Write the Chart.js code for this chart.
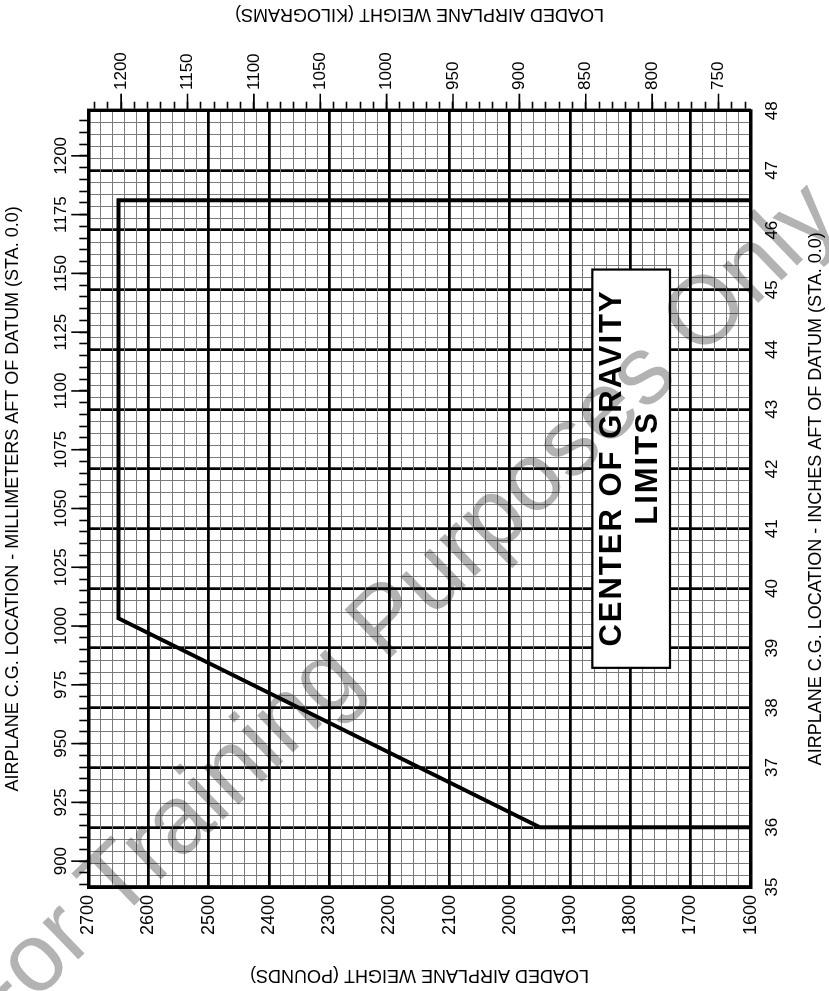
<!DOCTYPE html>
<html>
<head>
<meta charset="utf-8">
<title>Center of Gravity Limits</title>
<script src="https://cdn.jsdelivr.net/npm/chart.js@4.4.1/dist/chart.umd.min.js"></script>
<style>
  html, body { margin: 0; padding: 0; background: #fff; overflow: hidden; }
  /* chart is drawn upright (weight up, C.G. across) and turned a quarter turn */
  #wrap {
    position: absolute; left: 0; top: 0;
    width: 991px; height: 829px;
    transform-origin: 0 0;
    transform: translate(0, 991px) rotate(-90deg);
  }
</style>
</head>
<body>
<div id="wrap"><canvas id="cgChart" width="991" height="829"></canvas></div>
<script>
// Weight axis labels
const weightLbLabels = [1600, 1700, 1800, 1900, 2000, 2100, 2200, 2300, 2400, 2500, 2600, 2700];
const weightKgLabels = [750, 800, 850, 900, 950, 1000, 1050, 1100, 1150, 1200];

// C.G. axis labels
const cgInchLabels = [35, 36, 37, 38, 39, 40, 41, 42, 43, 44, 45, 46, 47, 48];
const cgMmLabels = [900, 925, 950, 975, 1000, 1025, 1050, 1075, 1100, 1125, 1150, 1175, 1200];

// C.G. envelope (inches aft of datum, pounds)
const envelopeCg = [46.5, 46.5, 39.5, 36.0, 36.0];
const envelopeWeight = [1600, 2650, 2650, 1950, 1600];

// "CENTER OF GRAVITY LIMITS" box, in chart units
const boxCg = [38.67, 45.34];
const boxWeight = [1734, 1863];
const boxLines = ['CENTER OF GRAVITY', 'LIMITS'];
const boxLineWeight = [1829, 1770];
const boxLineCg = 42.0;

const LB_TO_KG = 0.45359237;
const IN_TO_MM = 25.4;

const FONT = "'Liberation Sans', Arial, sans-serif";
const NARROW = "'Liberation Sans Narrow', 'Arial Narrow', 'Liberation Sans', sans-serif";

// tick positions for the fine grid
function stepTicks(from, to, step) {
    const n = Math.round((to - from) / step);
    const out = [];
    for (let i = 0; i <= n; i++) {
        out.push({ value: Math.round((from + i * step) * 1000) / 1000 });
    }
    return out;
}

const isIn = (list) => (c) => !!c.tick && list.includes(c.tick.value);
const gridColor = (list) => (c) => isIn(list)(c) ? '#000' : '#7a7a7a';
const gridWidth = (list) => (c) => isIn(list)(c) ? 2.7 : 1;

// Longer marks for the labelled mm / kg ticks
const majorTickMarks = {
    id: 'majorTickMarks',
    afterDraw(chart) {
        const { ctx, chartArea } = chart;
        const mm = chart.scales.x2;
        const kg = chart.scales.y2;
        ctx.save();
        ctx.strokeStyle = '#000';
        ctx.lineWidth = 1.6;
        ctx.beginPath();
        cgMmLabels.forEach(v => {
            const px = mm.getPixelForValue(v);
            ctx.moveTo(px, chartArea.top);
            ctx.lineTo(px, chartArea.top - 17);
        });
        weightKgLabels.forEach(v => {
            const py = kg.getPixelForValue(v);
            ctx.moveTo(chartArea.right, py);
            ctx.lineTo(chartArea.right + 17, py);
        });
        ctx.stroke();
        ctx.restore();
    }
};

// Kilogram title reads the same way as the pound title
const kgTitle = {
    id: 'kgTitle',
    afterDraw(chart) {
        const { ctx, chartArea } = chart;
        ctx.save();
        ctx.fillStyle = '#000';
        ctx.font = `18px ${FONT}`;
        ctx.textAlign = 'center';
        ctx.textBaseline = 'middle';
        ctx.translate(chart.width - 14, (chartArea.top + chartArea.bottom) / 2);
        ctx.rotate(-Math.PI / 2);
        ctx.fillText('LOADED AIRPLANE WEIGHT (KILOGRAMS)', 0, 0);
        ctx.restore();
    }
};

// Boxed caption
const limitsBox = {
    id: 'limitsBox',
    afterDatasetsDraw(chart) {
        const { ctx } = chart;
        const x = chart.scales.x;
        const y = chart.scales.y;
        const l = x.getPixelForValue(boxCg[0]);
        const r = x.getPixelForValue(boxCg[1]);
        const t = y.getPixelForValue(boxWeight[1]);
        const b = y.getPixelForValue(boxWeight[0]);
        ctx.save();
        ctx.fillStyle = '#fff';
        ctx.fillRect(l, t, r - l, b - t);
        ctx.strokeStyle = '#000';
        ctx.lineWidth = 2.2;
        ctx.strokeRect(l, t, r - l, b - t);
        ctx.fillStyle = '#000';
        ctx.font = `bold 31px ${FONT}`;
        ctx.letterSpacing = '2px';
        ctx.textAlign = 'center';
        ctx.textBaseline = 'middle';
        boxLines.forEach((txt, i) => {
            ctx.fillText(txt, x.getPixelForValue(boxLineCg) + 1, y.getPixelForValue(boxLineWeight[i]));
        });
        ctx.restore();
    }
};

// Grey watermark across the sheet
const watermark = {
    id: 'watermark',
    afterDraw(chart) {
        const { ctx } = chart;
        ctx.save();
        ctx.globalCompositeOperation = 'multiply';
        ctx.fillStyle = '#b3b3b3';
        ctx.font = `97px ${FONT}`;
        ctx.textAlign = 'center';
        ctx.textBaseline = 'alphabetic';
        ctx.translate(377, 400);
        ctx.rotate(46 * Math.PI / 180);
        ctx.fillText('For Training Purposes Only', 0, 25);
        ctx.restore();
    }
};

const envelopeData = envelopeCg.map((cg, i) => ({ x: cg, y: envelopeWeight[i] }));

new Chart(document.getElementById('cgChart'), {
    type: 'scatter',
    data: {
        datasets: [{
            data: envelopeData,
            showLine: true,
            borderColor: '#000',
            borderWidth: 4,
            borderJoinStyle: 'miter',
            pointRadius: 0,
            xAxisID: 'x',
            yAxisID: 'y'
        }]
    },
    options: {
        responsive: false,
        devicePixelRatio: 1,
        animation: false,
        events: [],
        layout: { padding: 0 },
        plugins: {
            legend: { display: false },
            tooltip: { enabled: false }
        },
        scales: {
            x: {
                type: 'linear',
                position: 'bottom',
                min: 35,
                max: 48,
                afterBuildTicks: s => { s.ticks = stepTicks(35, 48, 0.2); },
                afterFit: s => { s.height = 78.3; },
                grid: { drawTicks: false, color: gridColor(cgInchLabels), lineWidth: gridWidth(cgInchLabels) },
                border: { color: '#000', width: 3.4 },
                ticks: {
                    autoSkip: false, maxRotation: 0, padding: 11, color: '#000',
                    font: { family: FONT, size: 17 },
                    callback: v => cgInchLabels.includes(v) ? String(v) : ''
                },
                title: {
                    display: true,
                    text: 'AIRPLANE C.G. LOCATION - INCHES AFT OF DATUM (STA. 0.0)',
                    color: '#000',
                    font: { family: FONT, size: 18 },
                    padding: 2
                }
            },
            x2: {
                type: 'linear',
                position: 'top',
                min: 35 * IN_TO_MM,
                max: 48 * IN_TO_MM,
                afterBuildTicks: s => { s.ticks = stepTicks(890, 1215, 5); },
                afterFit: s => { s.height = 88.3; },
                grid: { drawOnChartArea: false, drawTicks: true, tickLength: 9, tickColor: '#000', tickWidth: 1.6 },
                border: { color: '#000', width: 3.4 },
                ticks: {
                    autoSkip: false, maxRotation: 0, padding: 8, color: '#000',
                    font: { family: NARROW, size: 17 },
                    callback: v => cgMmLabels.includes(v) ? String(v) : ''
                },
                title: {
                    display: true,
                    text: 'AIRPLANE C.G. LOCATION - MILLIMETERS AFT OF DATUM (STA. 0.0)',
                    color: '#000',
                    font: { family: FONT, size: 18 },
                    padding: 2
                }
            },
            y: {
                type: 'linear',
                position: 'left',
                min: 1600,
                max: 2700,
                afterBuildTicks: s => { s.ticks = stepTicks(1600, 2700, 20); },
                afterFit: s => { s.width = 104; },
                grid: { drawTicks: false, color: gridColor(weightLbLabels), lineWidth: gridWidth(weightLbLabels) },
                border: { color: '#000', width: 3.4 },
                ticks: {
                    autoSkip: false, padding: 8, color: '#000',
                    font: { family: FONT, size: 18 },
                    callback: v => weightLbLabels.includes(v) ? String(v) : ''
                },
                title: {
                    display: true,
                    text: 'LOADED AIRPLANE WEIGHT (POUNDS)',
                    color: '#000',
                    font: { family: FONT, size: 18 },
                    padding: 5
                }
            },
            y2: {
                type: 'linear',
                position: 'right',
                min: 1600 * LB_TO_KG,
                max: 2700 * LB_TO_KG,
                afterBuildTicks: s => { s.ticks = stepTicks(730, 1220, 10); },
                afterFit: s => { s.width = 110.7; },
                grid: { drawOnChartArea: false, drawTicks: true, tickLength: 9, tickColor: '#000', tickWidth: 1.6 },
                border: { color: '#000', width: 3.4 },
                ticks: {
                    autoSkip: false, padding: 11.7, color: '#000',
                    font: { family: FONT, size: 17 },
                    callback: v => weightKgLabels.includes(v) ? String(v) : ''
                },
                title: { display: false }
            }
        }
    },
    plugins: [majorTickMarks, limitsBox, kgTitle, watermark]
});
</script>
</body>
</html>
